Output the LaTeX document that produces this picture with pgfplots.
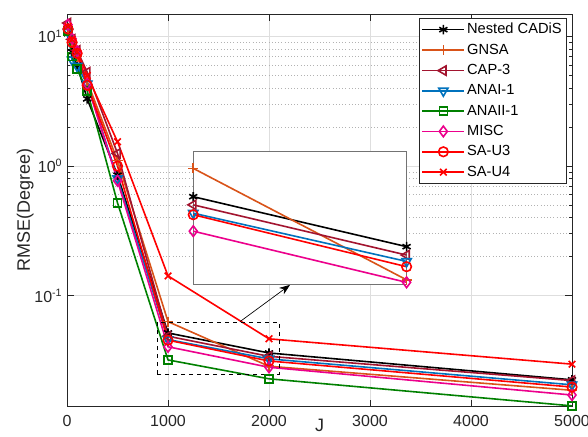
\documentclass[border=0pt]{standalone}
\usepackage{fontspec}
\setmainfont{Liberation Sans}
\usepackage{pgfplots}
\usepackage{pgfplotstable}
\pgfplotsset{compat=1.18}
\usetikzlibrary{arrows.meta}

\definecolor{mOrange}{rgb}{0.85,0.325,0.098}
\definecolor{mWine}{rgb}{0.635,0.078,0.184}
\definecolor{mBlue}{rgb}{0,0.447,0.741}
\definecolor{mGreen}{rgb}{0,0.5,0}
\definecolor{axgray}{rgb}{0.15,0.15,0.15}

% RMSE vs J, one column per method
\pgfplotstableread{
J     cadis   gnsa    cap3    anai    anaii   misc    sau3    sau4
10    10.5    11.5    12.7    10.8    11.0    12.3    11.4    12.0
50    7.6     9.0     9.5     6.6     7.0     9.6     9.0     9.5
100   6.0     7.0     7.8     5.9     5.6     7.7     7.4     7.6
200   3.3     4.5     5.3     4.3     3.8     4.3     4.2     5.0
500   0.85    1.1     1.25    0.80    0.52    0.77    1.0     1.54
1000  0.0515  0.0630  0.0486  0.0458  0.0319  0.0403  0.0453  0.142
2000  0.0361  0.0285  0.0340  0.0325  0.0228  0.0280  0.0313  0.0464
5000  0.0224  0.0186  0.0221  0.0205  0.0141  0.0171  0.0197  0.0296
}\rmse

\pgfplotsset{
  sCadis/.style={black, line width=1.2pt, mark=asterisk, mark size=3.5pt, mark options={solid}},
  sGnsa/.style={mOrange, line width=1.2pt, mark=+, mark size=3.8pt, mark options={solid}},
  sCap/.style={mWine, line width=1.2pt, mark=triangle, mark size=4pt, mark options={solid, rotate=90}},
  sAnai/.style={mBlue, line width=1.2pt, mark=triangle, mark size=4pt, mark options={solid, rotate=180}},
  sAnaii/.style={mGreen, line width=1.2pt, mark=square, mark size=3pt, mark options={solid}},
  sMisc/.style={magenta, line width=1.2pt, mark=diamond, mark size=4pt, mark options={solid}},
  sSau3/.style={red, line width=1.2pt, mark=o, mark size=3.6pt, mark options={solid}},
  sSau4/.style={red, line width=1.2pt, mark=x, mark size=3.5pt, mark options={solid}},
}

\begin{document}
\begin{tikzpicture}[font=\fontsize{11}{13}\selectfont]
\begin{axis}[
  name=main,
  width=378.75pt, height=294.5pt, scale only axis,
  xmin=0, xmax=5000,
  ymode=log, ymin=0.0139, ymax=14.9,
  xtick={0,1000,2000,3000,4000,5000},
  scaled x ticks=false,
  xticklabel style={/pgf/number format/1000 sep=, yshift=-3pt},
  /pgf/number format/assume math mode=true,
  ytick={0.1,1,10},
  yticklabels={10\textsuperscript{-1},10\textsuperscript{0},10\textsuperscript{1}},
  xmajorgrids, ymajorgrids, yminorgrids,
  major grid style={color=black!13, line width=0.5pt},
  minor grid style={dotted, color=black!30, line width=0.5pt},
  axis line style={axgray, line width=0.5pt},
  tick style={axgray, line width=0.5pt},
  tick align=inside,
  major tick length=5pt, minor tick length=2.5pt,
  tick label style={text=axgray, font=\fontsize{12}{14}\selectfont},
  label style={text=axgray, font=\fontsize{13.5}{16}\selectfont},
  xlabel={J},
  xlabel style={at={(rel axis cs:0.5,-0.065)}, anchor=south, inner sep=0pt},
  ylabel={RMSE(Degree)},
  ylabel style={at={(rel axis cs:-0.083,0.5)}, anchor=center},
  legend style={at={(rel axis cs:0.9895,0.989)}, anchor=north east,
    draw=axgray, fill=white, line width=0.5pt, row sep=3.1pt, inner sep=2pt,
    font=\fontsize{11}{13}\selectfont,
    nodes={inner sep=1.5pt, text=black}},
  legend cell align=left,
  legend image code/.code={
    \draw[mark repeat=2, mark phase=2] plot coordinates {(0pt,0pt) (15.75pt,0pt) (31.5pt,0pt)};
  },
]
\addplot[sCadis] table[x=J, y=cadis] {\rmse};
\addplot[sGnsa]  table[x=J, y=gnsa]  {\rmse};
\addplot[sCap]   table[x=J, y=cap3]  {\rmse};
\addplot[sAnai]  table[x=J, y=anai]  {\rmse};
\addplot[sAnaii] table[x=J, y=anaii] {\rmse};
\addplot[sMisc]  table[x=J, y=misc]  {\rmse};
\addplot[sSau3]  table[x=J, y=sau3]  {\rmse};
\addplot[sSau4]  table[x=J, y=sau4]  {\rmse};
\legend{Nested CADiS, GNSA, CAP-3, ANAI-1, ANAII-1, MISC, SA-U3, SA-U4}

% zoom region and arrow
\draw[black, dashed, line width=0.8pt] (axis cs:894,0.0248) rectangle (axis cs:2102,0.0624);
\draw[black, line width=0.5pt, -{Stealth[length=8pt, width=6pt]}] (axis cs:1713,0.063) -- (axis cs:2208,0.121);

\coordinate (insetSW) at (axis cs:1250,0.121);
\coordinate (bbsw) at (rel axis cs:-0.1327,-0.0772);
\coordinate (bbne) at (rel axis cs:1.0317,1.0357);
\end{axis}

% inset
\begin{axis}[
  at={(insetSW)}, anchor=south west,
  width=160pt, height=100pt, scale only axis,
  xmin=1000, xmax=2000,
  ymode=log, ymin=0.0275, ymax=0.071,
  ticks=none,
  axis background/.style={fill=white},
  axis line style={black!55, line width=0.8pt},
  clip=false,
]
\addplot[sCadis] table[x=J, y=cadis, restrict x to domain=1000:2000] {\rmse};
\addplot[sGnsa]  table[x=J, y=gnsa,  restrict x to domain=1000:2000] {\rmse};
\addplot[sCap]   table[x=J, y=cap3,  restrict x to domain=1000:2000] {\rmse};
\addplot[sAnai]  table[x=J, y=anai,  restrict x to domain=1000:2000] {\rmse};
\addplot[sMisc]  table[x=J, y=misc,  restrict x to domain=1000:2000] {\rmse};
\addplot[sSau3]  table[x=J, y=sau3,  restrict x to domain=1000:2000] {\rmse};
\end{axis}

\pgfresetboundingbox
\path[use as bounding box] (bbsw) rectangle (bbne);
\end{tikzpicture}
\end{document}
